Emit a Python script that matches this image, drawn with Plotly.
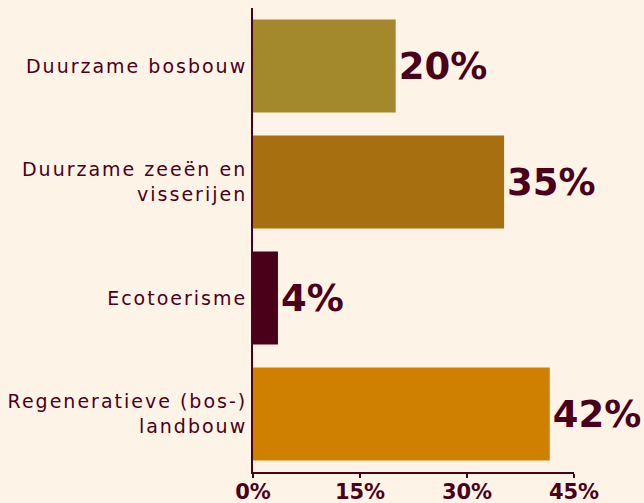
import plotly.graph_objects as go

categories = ["Duurzame bosbouw", "Duurzame zeeën en<br>visserijen", "Ecotoerisme", "Regeneratieve (bos-)<br>landbouw"]
values = [20, 35.2, 3.5, 41.6]
labels = ["20%", "35%", "4%", "42%"]
colors = ["#A3882C", "#A86F11", "#4A0019", "#CF8000"]
x_ticks = [0, 15, 30, 45]
x_tick_text = ["0%", "15%", "30%", "45%"]

maroon = "#4A0019"
bg = "#FDF4E7"

fig = go.Figure(go.Bar(
    x=values, y=categories, orientation="h",
    marker=dict(color=colors, line=dict(width=0)),
    text=labels, textposition="outside", cliponaxis=False,
    textfont=dict(family="DejaVu Sans", size=37, color=maroon, weight="bold"),
    constraintext="none",
))

fig.update_layout(
    width=644, height=503,
    margin=dict(l=253, r=70, t=8, b=31),
    paper_bgcolor=bg, plot_bgcolor=bg,
    bargap=0.2,
    showlegend=False,
    font=dict(family="DejaVu Sans", color=maroon),
)
fig.update_xaxes(
    range=[0, 45], tickvals=x_ticks, ticktext=x_tick_text,
    showgrid=False, zeroline=False, automargin=False,
    showline=True, linecolor=maroon, linewidth=2,
    ticks="outside", ticklen=4, tickwidth=2, tickcolor=maroon,
    ticklabelstandoff=-4,
    tickfont=dict(family="DejaVu Sans", size=21, color=maroon, weight="bold"),
)
fig.update_yaxes(
    autorange="reversed", showgrid=False, zeroline=False, automargin=False,
    showline=True, linecolor=maroon, linewidth=2,
    ticks="", ticklabelstandoff=0,
    tickfont=dict(family="DejaVu Sans", size=19, color=maroon),
)

post = """
document.body.style.margin = '0';
document.body.style.background = '%s';
var st = document.createElement('style');
st.textContent = '.ytick text, .ytick tspan { letter-spacing: 2px; }';
document.head.appendChild(st);
""" % bg

fig.write_html("out.html", post_script=post, config={"displayModeBar": False})
